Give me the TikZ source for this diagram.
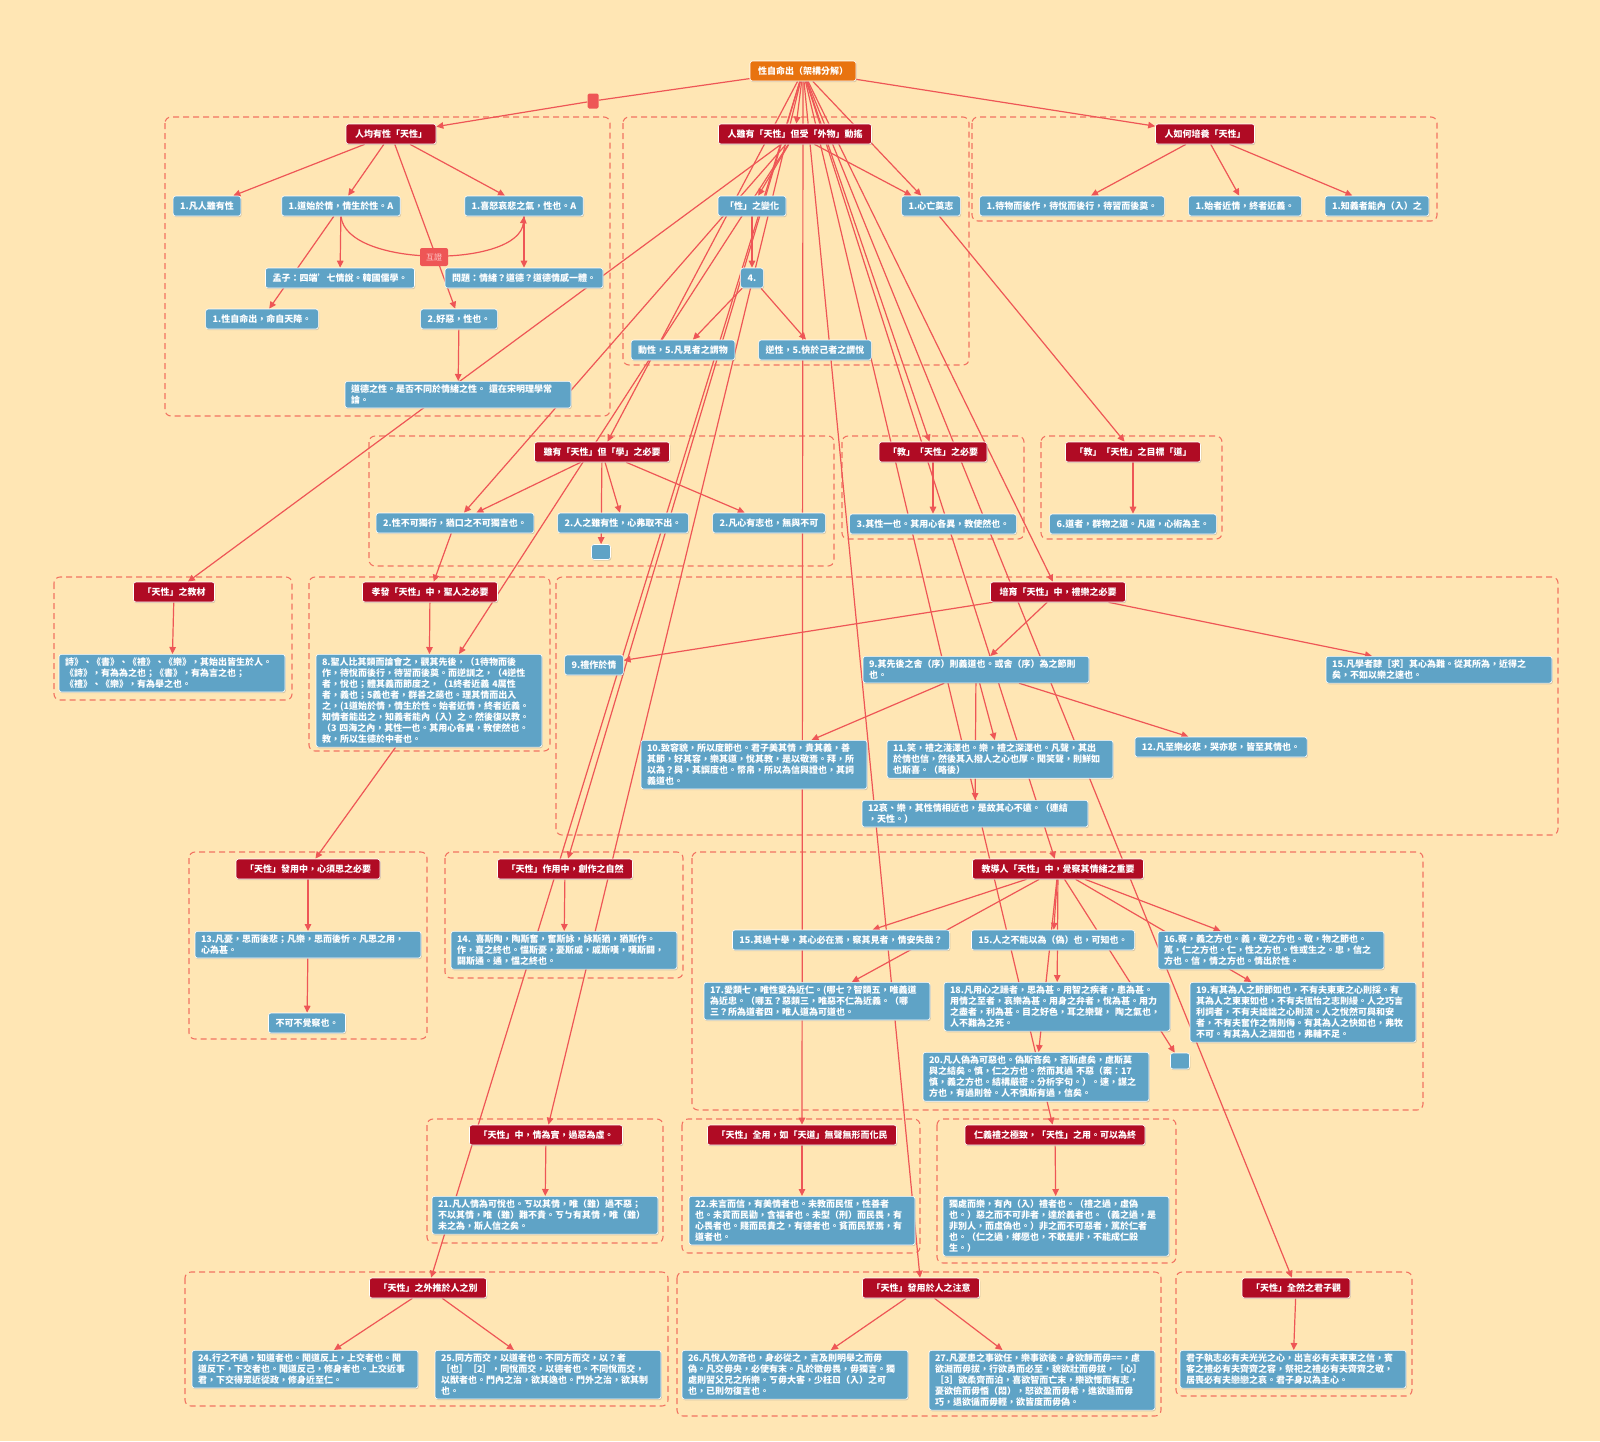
\documentclass[tikz,border=0pt]{standalone}
\usepackage{fontspec}
\setmainfont{Noto Sans CJK TC}
\usetikzlibrary{arrows.meta,shadows}
\definecolor{bgtan}{HTML}{FFE6B4}
\definecolor{rootor}{HTML}{E8730F}
\definecolor{hdred}{HTML}{B00B24}
\definecolor{itblue}{HTML}{5FA3C6}
\definecolor{lnred}{HTML}{EE5656}
\definecolor{grpred}{HTML}{F27462}
\pgfdeclarelayer{grp}
\pgfdeclarelayer{lns}
\pgfsetlayers{grp,lns,main}

\begin{document}
\begin{tikzpicture}[x=1pt,y=-1pt,font=\fontsize{9}{11}\selectfont\bfseries,
  bx/.style={draw=white, line width=0.6pt, rounded corners=2.5pt, text=white, minimum height=20pt, inner ysep=3.5pt,
    drop shadow={opacity=0.3, shadow xshift=0.8pt, shadow yshift=-1.2pt}},
  rt/.style={bx, fill=rootor, inner xsep=8pt},
  hdr/.style={bx, fill=hdred, inner xsep=9pt},
  itm/.style={bx, fill=itblue, inner xsep=7pt},
  txt/.style={itm, inner xsep=6pt, text width=214pt, align=left, anchor=north},
  grp/.style={draw=grpred, line width=1.1pt, dash pattern=on 6pt off 4pt, rounded corners=6pt},
  ln/.style={draw=lnred, line width=1.2pt},
  arr/.style={ln, -{Triangle[length=7pt,width=6.5pt]}},
  hz/.style={fill=lnred, text=red!20, rounded corners=2pt, inner sep=1pt, minimum width=28pt, minimum height=18pt, font=\fontsize{8}{9}\selectfont},
  mk/.style={fill=lnred, rounded corners=1.5pt, minimum width=11pt, minimum height=15pt, inner sep=0pt}]
\useasboundingbox (0,0) rectangle (1600,1441);
\begin{pgfonlayer}{grp}
\fill[bgtan] (0,0) rectangle (1600,1441);
\draw[grp] (165,117) rectangle (610,416);
\draw[grp] (623,117) rectangle (969,365);
\draw[grp] (972,117) rectangle (1437,221);
\draw[grp] (369,436) rectangle (834,566);
\draw[grp] (842,436) rectangle (1024,539);
\draw[grp] (1041,436) rectangle (1222,539);
\draw[grp] (54,577) rectangle (292,700);
\draw[grp] (309,577) rectangle (550,751);
\draw[grp] (556,577) rectangle (1558,835);
\draw[grp] (189,852) rectangle (427,1039);
\draw[grp] (445,852) rectangle (683,978);
\draw[grp] (692,852) rectangle (1423,1110);
\draw[grp] (427,1119) rectangle (663,1243);
\draw[grp] (682,1119) rectangle (920,1253);
\draw[grp] (937,1119) rectangle (1176,1263);
\draw[grp] (185,1272) rectangle (668,1406);
\draw[grp] (677,1272) rectangle (1161,1416);
\draw[grp] (1176,1272) rectangle (1412,1396);
\end{pgfonlayer}

% root
\node[rt] (root) at (803,71) {性自命出（架構分解）};
\node[mk] (sq) at (593,101) {};

% row 1
\node[hdr] (hA) at (391,134) {人均有性「天性」};
\node[itm] (a1) at (207,206) {1.凡人雖有性};
\node[itm] (a2) at (341,206) {1.道始於情，情生於性。A};
\node[itm] (a3) at (524,206) {1.喜怒哀悲之氣，性也。A};
\node[itm] (a4) at (340,278) {孟子：四端'七情說。韓國儒學。};
\node[itm] (a5) at (524,278) {問題：情緒？道德？道德情感一體。};
\node[itm] (a6) at (262,319) {1.性自命出，命自天降。};
\node[itm] (a7) at (459,319) {2.好惡，性也。};
\node[txt] (a8) at (458,381) {道德之性。是否不同於情緒之性。 還在宋明理學常\\論。};
\node[hz] (hz) at (434,257) {互證};

\node[hdr] (hB) at (795,134) {人雖有「天性」但受「外物」動搖};
\node[itm] (b1) at (752,206) {「性」之變化};
\node[itm] (b2) at (931,206) {1.心亡奠志};
\node[itm] (b3) at (752,278) {4.};
\node[itm] (b4) at (683,350) {動性，5.凡見者之謂物};
\node[itm] (b5) at (815,350) {逆性，5.快於己者之謂悅};

\node[hdr] (hC) at (1205,134) {人如何培養「天性」};
\node[itm] (c1) at (1072,206) {1.待物而後作，待悅而後行，待習而後奠。};
\node[itm] (c2) at (1245,206) {1.始者近情，終者近義。};
\node[itm] (c3) at (1377,206) {1.知義者能內（入）之};

% row 2
\node[hdr] (hD) at (602,452) {雖有「天性」但「學」之必要};
\node[itm] (d1) at (455,523) {2.性不可獨行，猶口之不可獨言也。};
\node[itm] (d2) at (623,523) {2.人之雖有性，心弗取不出。};
\node[itm] (d3) at (769,523) {2.凡心有志也，無與不可};
\node[itm, minimum width=19pt, minimum height=15pt, inner sep=0pt] (d4) at (601,552) {};

\node[hdr] (hE) at (933,452) {「教」「天性」之必要};
\node[itm] (e1) at (933,524) {3.其性一也。其用心各異，教使然也。};
\node[hdr] (hF) at (1133,452) {「教」「天性」之目標「道」};
\node[itm] (f1) at (1133,524) {6.道者，群物之道。凡道，心術為主。};

% row 3
\node[hdr] (hG) at (174,592) {「天性」之教材};
\node[txt] (g1) at (172,654) {詩》、《書》、《禮》、《樂》，其始出皆生於人。\\《詩》，有為為之也；《書》，有為言之也；\\《禮》、《樂》，有為舉之也。};

\node[hdr] (hH) at (430,592) {孝發「天性」中，聖人之必要};
\node[txt] (h1) at (429,654) {8.聖人比其類而論會之，觀其先後，（1待物而後\\作，待悅而後行，待習而後奠。而逆訓之，（4逆性\\者，悅也；體其義而節度之，（1終者近義 4厲性\\者，義也；5義也者，群善之蕝也。理其情而出入\\之，(1道始於情，情生於性。始者近情，終者近義。\\知情者能出之，知義者能內（入）之。然後復以教。\\（3 四海之內，其性一也。其用心各異，教使然也。\\教，所以生德於中者也。};

\node[hdr] (hI) at (1058,592) {培育「天性」中，禮樂之必要};
\node[itm] (i1) at (594,665) {9.禮作於情};
\node[txt] (i2) at (976,656) {9.其先後之舍（序）則義道也。或舍（序）為之節則\\也。};
\node[txt] (i3) at (1439,656) {15.凡學者隸［求］其心為難。從其所為，近得之\\矣，不如以樂之速也。};
\node[txt] (i4) at (754,740) {10.致容貌，所以度節也。君子美其情，貴其義，善\\其節，好其容，樂其道，悅其教，是以敬焉。拜，所\\以為？與，其譔度也。幣帛，所以為信與證也，其詞\\義道也。};
\node[txt] (i5) at (1000,740) {11.笑，禮之淺澤也。樂，禮之深澤也。凡聲，其出\\於情也信，然後其入撥人之心也厚。聞笑聲，則鮮如\\也斯喜。（略後）};
\node[itm] (i6) at (1221,747) {12.凡至樂必悲，哭亦悲，皆至其情也。};
\node[txt] (i7) at (975,800) {12哀、樂，其性情相近也，是故其心不遠。（連結\\，天性。）};

% row 4
\node[hdr] (hJ) at (308,869) {「天性」發用中，心須思之必要};
\node[txt] (j1) at (308,931) {13.凡憂，思而後悲；凡樂，思而後忻。凡思之用，\\心為甚。};
\node[itm] (j2) at (307,1023) {不可不覺察也。};

\node[hdr] (hK) at (565,869) {「天性」作用中，創作之自然};
\node[txt] (k1) at (564,931) {14. 喜斯陶，陶斯奮，奮斯詠，詠斯猶，猶斯作。\\作，喜之終也。慍斯憂，憂斯戚，戚斯嘆，嘆斯闢，\\闢斯通。通，慍之終也。};

\node[hdr] (hL) at (1058,869) {教導人「天性」中，覺察其情緒之重要};
\node[itm] (l1) at (841,940) {15.其過十舉，其心必在焉，察其見者，情安失哉？};
\node[itm] (l2) at (1053,940) {15.人之不能以為（偽）也，可知也。};
\node[txt] (l3) at (1271,931) {16.察，義之方也。義，敬之方也。敬，物之節也。\\篤，仁之方也。仁，性之方也。性或生之。忠，信之\\方也。信，情之方也。情出於性。};
\node[txt] (l4) at (817,982) {17.愛類七，唯性愛為近仁。(哪七？智類五，唯義道\\為近忠。（哪五？惡類三，唯惡不仁為近義。（哪\\三？所為道者四，唯人道為可道也。};
\node[txt] (l5) at (1057,982) {18.凡用心之躁者，思為甚。用智之疾者，患為甚。\\用情之至者，哀樂為甚。用身之弁者，悅為甚。用力\\之盡者，利為甚。目之好色，耳之樂聲， 陶之氣也，\\人不難為之死。};
\node[txt] (l6) at (1303,982) {19.有其為人之節節如也，不有夫柬柬之心則採。有\\其為人之柬柬如也，不有夫恆怡之志則縵。人之巧言\\利詞者，不有夫詘詘之心則流。人之悅然可與和安\\者，不有夫奮作之情則侮。有其為人之快如也，弗牧\\不可。有其為人之淵如也，弗輔不足。};
\node[txt] (l7) at (1036,1052) {20.凡人偽為可惡也。偽斯吝矣，吝斯慮矣，慮斯莫\\與之結矣。慎，仁之方也。然而其過 不惡（案：17\\慎，義之方也。結構嚴密。分析字句。）。速，謀之\\方也，有過則咎。人不慎斯有過，信矣。};
\node[itm, minimum width=19pt, minimum height=16pt, inner sep=0pt] (lx) at (1180,1061) {};

% row 5
\node[hdr] (hM) at (546,1135) {「天性」中，情為實，過惡為虛。};
\node[txt] (m1) at (545,1196) {21.凡人情為可悅也。ㄎ以其情，唯（雖）過不惡；\\不以其情，唯（雖）難不貴。ㄎㄅ有其情，唯（雖）\\未之為，斯人信之矣。};
\node[hdr] (hN) at (802,1135) {「天性」全用，如「天道」無聲無形而化民};
\node[txt] (n1) at (802,1196) {22.未言而信，有美情者也。未教而民恆，性善者\\也。未賞而民勸，含福者也。未型（刑）而民畏，有\\心畏者也。賤而民貴之，有德者也。貧而民聚焉，有\\道者也。};
\node[hdr] (hO) at (1055,1135) {仁義禮之極致，「天性」之用。可以為終};
\node[txt] (o1) at (1056,1196) {獨處而樂，有內（入）禮者也。（禮之過，虛偽\\也。）惡之而不可非者，達於義者也。（義之過，是\\非別人，而虛偽也。）非之而不可惡者，篤於仁者\\也。（仁之過，鄉愿也，不敢是非，不能成仁殺\\生。）};

% row 6
\node[hdr] (hP) at (428,1288) {「天性」之外推於人之別};
\node[txt] (p1) at (305,1350) {24.行之不過，知道者也。聞道反上，上交者也。聞\\道反下，下交者也。聞道反己，修身者也。上交近事\\君，下交得眾近從政，修身近至仁。};
\node[txt] (p2) at (548,1350) {25.同方而交，以道者也。不同方而交，以？者\\［也］［2］，同悅而交，以德者也。不同悅而交，\\以猷者也。門內之治，欲其逸也。門外之治，欲其制\\也。};
\node[hdr] (hQ) at (921,1288) {「天性」發用於人之注意};
\node[txt] (q1) at (795,1350) {26.凡悅人勿吝也，身必從之，言及則明舉之而毋\\偽。凡交毋央，必使有末。凡於徵毋畏，毋獨言。獨\\處則習父兄之所樂。ㄎ毋大害，少枉ㄖ（入）之可\\也，已則勿復言也。};
\node[txt] (q2) at (1042,1350) {27.凡憂患之事欲任，樂事欲後。身欲靜而毋==，慮\\欲淵而毋拔，行欲勇而必至，貌欲壯而毋拔，［心］\\［3］欲柔齊而泊，喜欲智而亡末，樂欲懌而有志，\\憂欲儉而毋惛（悶），怒欲盈而毋希，進欲遜而毋\\巧，退欲循而毋輕，欲皆度而毋偽。};
\node[hdr] (hR) at (1296,1288) {「天性」全然之君子觀};
\node[txt] (r1) at (1293,1350) {君子執志必有夫光光之心，出言必有夫柬柬之信，賓\\客之禮必有夫齊齊之容，祭祀之禮必有夫齊齊之敬，\\居喪必有夫戀戀之哀。君子身以為主心。};

\begin{pgfonlayer}{lns}
% root fan
\draw[ln] (root) -- (sq); \draw[arr] (sq) -- (hA);
\draw[arr] (root) -- (hB); \draw[arr] (root) -- (hC);
\draw[arr] (root) -- (b2); \draw[arr] (root) -- (hD);
\draw[arr] (root) -- (hE); \draw[arr] (root) -- (hI);
\draw[arr] (root) -- (hK); \draw[arr] (root) -- (hL);
\draw[arr] (root) -- (hM); \draw[arr] (root) -- (hN);
\draw[arr] (root) -- (hO); \draw[arr] (root) -- (hP);
\draw[arr] (root) -- (hQ); \draw[arr] (root) -- (hR);
% group A
\draw[arr] (hA) -- (a1); \draw[arr] (hA) -- (a2);
\draw[arr] (hA) -- (a3); \draw[arr] (hA) -- (a7);
\draw[arr] (a2) -- (a4); \draw[arr] (a2) -- (a6);
\draw[arr] (a3) -- (a5); \draw[arr] (a7) -- (a8);
\draw[arr] (a2.south) .. controls +(5,52) and +(-5,52) .. (a3.south);
% group B
\draw[arr] (hB) -- (b1); \draw[arr] (hB) -- (b2);
\draw[arr] (b1) -- (b3); \draw[arr] (b3) -- (b4); \draw[arr] (b3) -- (b5);
\draw[arr] (hB) -- (hG); \draw[arr] (hB) -- (d1); \draw[arr] (hB) -- (h1);
% group C
\draw[arr] (hC) -- (c1); \draw[arr] (hC) -- (c2); \draw[arr] (hC) -- (c3);
% row 2
\draw[arr] (hD) -- (d1); \draw[arr] (hD) -- (d2);
\draw[arr] (hD) -- (d4); \draw[arr] (hD) -- (d3);
\draw[arr] (hE) -- (e1);
\draw[arr] (b2) -- (hF); \draw[arr] (hF) -- (f1);
% row 3
\draw[arr] (hG) -- (g1);
\draw[arr] (d1) -- (hH); \draw[arr] (hH) -- (h1);
\draw[arr] (hI) -- (i1); \draw[arr] (hI) -- (i2); \draw[arr] (hI) -- (i3);
\draw[arr] (i2) -- (i4); \draw[arr] (i2) -- (i5);
\draw[arr] (i2) -- (i7); \draw[arr] (i2) -- (i6);
% row 4
\draw[arr] (h1) -- (hJ); \draw[arr] (hJ) -- (j1); \draw[arr] (j1) -- (j2);
\draw[arr] (hK) -- (k1);
\draw[arr] (hL) -- (l1); \draw[arr] (hL) -- (l2); \draw[arr] (hL) -- (l3);
\draw[arr] (hL) -- (l4); \draw[arr] (hL) -- (l5); \draw[arr] (hL) -- (l6);
\draw[arr] (hL) -- (l7); \draw[arr] (hL) -- (lx);
% rows 5 and 6
\draw[arr] (hM) -- (m1); \draw[arr] (hN) -- (n1); \draw[arr] (hO) -- (o1);
\draw[arr] (hP) -- (p1); \draw[arr] (hP) -- (p2);
\draw[arr] (hQ) -- (q1); \draw[arr] (hQ) -- (q2);
\draw[arr] (hR) -- (r1);
\end{pgfonlayer}
\end{tikzpicture}
\end{document}
